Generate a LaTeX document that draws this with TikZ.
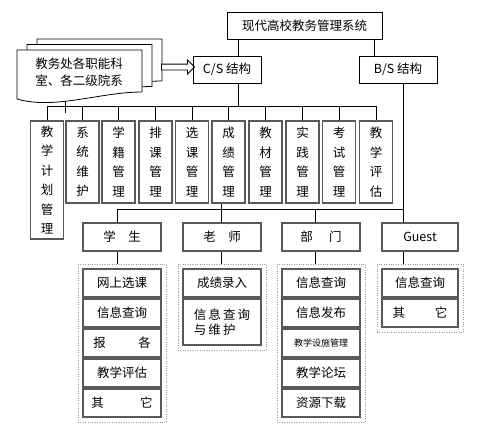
\documentclass[tikz,border=0pt]{standalone}
\usepackage{fontspec}
\setmainfont{Noto Sans CJK SC}
\usetikzlibrary{positioning, fit, shapes.arrows}

\tikzset{
  sysbox/.style={draw, line width=0.8pt, inner sep=0pt, minimum height=27pt},
  modbox/.style={draw=black!65, line width=1.1pt, inner sep=0pt, minimum width=33pt,
    minimum height=82pt, align=center, font=\fontsize{12.5}{19.5}\selectfont},
  userbox/.style={draw=black!65, line width=1.1pt, inner sep=0pt, minimum width=78pt, minimum height=28pt},
  itembox/.style={draw=black!65, line width=1.1pt, inner sep=0pt, outer sep=0pt,
    minimum width=78pt, minimum height=28pt},
  grpbox/.style={draw=black!40, dotted, inner sep=5pt},
  link/.style={line width=0.8pt}
}

\begin{document}
\begin{tikzpicture}[x=1pt, y=-1pt, font=\fontsize{12.5}{15}\selectfont]
\useasboundingbox (0,0) rectangle (479,429);

% stacked documents
\foreach \dx/\dy in {20/-11, 10/-5.5, 0/0}
  \draw[line width=0.8pt, fill=white, shift={(\dx,\dy)}]
    (17,99) -- (17,50) -- (142,50) -- (142,92) .. controls (100,92) and (55,110) .. (17,99) -- cycle;
\node[align=center, font=\fontsize{12.5}{17}\selectfont] (dept) at (79,72) {教务处各职能科\\室、各二级院系};
\node[single arrow, draw, line width=0.8pt, fill=white, minimum height=33pt, inner sep=2.5pt,
  single arrow head extend=4pt] (arr) at (176.5,67) {};

% top level
\node[sysbox, minimum width=155pt] (top) at (304.5,25.5) {现代高校教务管理系统};
\node[sysbox, minimum width=68pt] (cs) at (227,69.5) {C/S 结构};
\node[sysbox, minimum width=78pt] (bs) at (398,69.5) {B/S 结构};

\coordinate (cslink) at (238,0);
\coordinate (bslink) at (374,0);
\coordinate (bus) at (0,106);
\coordinate (lbus) at (0,209);
\coordinate (slink) at (117,0);
\coordinate (tlink) at (221,0);
\coordinate (dlink) at (315,0);
\coordinate (glink) at (403,0);

\draw[link] (top.south -| cslink) -- (cs.north -| cslink);
\draw[link] (top.south -| bslink) -- (bs.north -| bslink);

% C/S modules
\node[modbox, minimum height=118pt] (m1) at (47,180) {教\\学\\计\\划\\管\\理};
\foreach \i/\x/\txt in {2/82.5/{系\\统\\维\\护}, 3/118.5/{学\\籍\\管\\理}, 4/155.5/{排\\课\\管\\理},
    5/192/{选\\课\\管\\理}, 6/228.5/{成\\绩\\管\\理}, 7/265.5/{教\\材\\管\\理},
    8/302.5/{实\\践\\管\\理}, 9/339/{考\\试\\管\\理}, 10/376/{教\\学\\评\\估}}
  \node[modbox] (m\i) at (\x,162) {\txt};

\draw[link] (m1.north |- bus) -- (m10.north |- bus);
\foreach \i in {1,...,10}
  \draw[link] (m\i.north) -- (m\i.north |- bus);
\draw[link] (cs.south -| cslink) -- (bus -| cslink);
\coordinate (dtip) at (65,101);
\coordinate (dend) at (65,113);
\draw[link] (dtip) -- (dend);

% users
\node[userbox] (stu) at (122,237) {学\quad 生};
\node[userbox] (tea) at (222,237) {老\quad 师};
\node[userbox] (dep) at (321,237) {部\hspace{1.3em}门};
\node[userbox, minimum width=76pt] (gst) at (420,237) {Guest};

\draw[link] (slink |- lbus) -- (glink |- lbus);
\draw[link] (m6.south -| tlink) -- (tea.north -| tlink);
\draw[link] (stu.north -| slink) -- (slink |- lbus);
\draw[link] (dep.north -| dlink) -- (dlink |- lbus);
\draw[link] (bs.south -| glink) -- (gst.north -| glink);

% student functions
\node[itembox] (s1) at (122,283) {网上选课};
\node[itembox, below=2pt of s1] (s2) {信息查询};
\node[itembox, below=2pt of s2] (s3) {报\hspace{2.6em}各};
\node[itembox, below=2pt of s3] (s4) {教学评估};
\node[itembox, below=2pt of s4] (s5) {其\hspace{2.9em}它};
\node[grpbox, fit=(s1)(s5)] (sg) {};

% teacher functions
\node[itembox] (t1) at (222,283) {成绩录入};
\node[itembox, minimum height=46pt, align=left, below=2pt of t1] (t2) {信\,息\,查\,询\\与\,维\,护};
\node[grpbox, fit=(t1)(t2)] (tg) {};

% department functions
\node[itembox] (d1) at (321,283) {信息查询};
\node[itembox, below=2pt of d1] (d2) {信息发布};
\node[itembox, below=2pt of d2, font=\fontsize{9}{11}\selectfont] (d3) {教学设施管理};
\node[itembox, below=2pt of d3] (d4) {教学论坛};
\node[itembox, below=2pt of d4] (d5) {资源下载};
\node[grpbox, fit=(d1)(d5)] (dg) {};

% guest functions
\node[itembox, minimum width=76pt] (g1) at (420,283) {信息查询};
\node[itembox, minimum width=76pt, below=2pt of g1] (g2) {其\hspace{2.4em}它};
\node[grpbox, fit=(g1)(g2)] (gg) {};

\draw[link] (stu.south -| slink) -- (sg.north -| slink);
\draw[link] (tea.south -| tlink) -- (tg.north -| tlink);
\draw[link] (dep.south -| dlink) -- (dg.north -| dlink);
\draw[link] (gst.south -| glink) -- (gg.north -| glink);

\end{tikzpicture}
\end{document}
